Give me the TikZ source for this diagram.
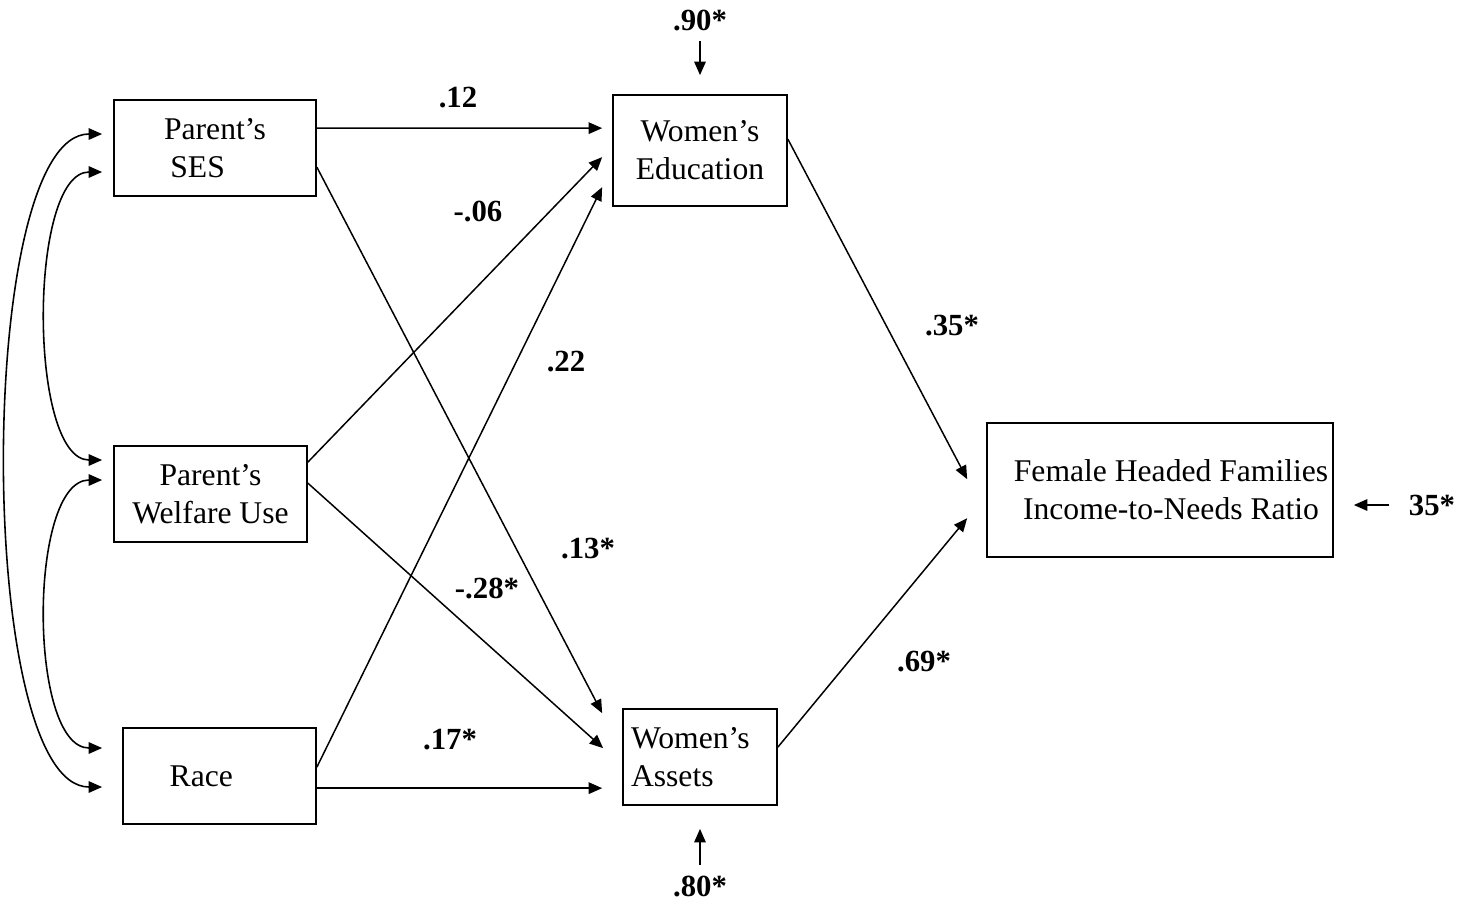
\documentclass[tikz,border=0pt]{standalone}
\usepackage{fontspec}
\setmainfont{Liberation Serif}
\usepackage{tikz}
\usetikzlibrary{arrows.meta,positioning,calc}

\begin{document}
\begin{tikzpicture}[x=0.02cm, y=-0.02cm,
    >={Triangle[length=0.27cm, width=0.23cm]},
    every node/.style={font=\fontsize{18}{21.5}\selectfont},
    box/.style={draw, line width=1pt, align=center, inner sep=0pt},
    coef/.style={inner sep=0pt, font=\fontsize{17.5}{20}\selectfont\bfseries},
    path/.style={->, line width=0.85pt}]
  \useasboundingbox (0,0) rectangle (1477,907);
  % Exogenous variables
  \node[box, minimum width=4.04cm, minimum height=1.92cm] (ses) at (215,148) {Parent’s\\SES\hspace*{1.1em}};
  \node[box, minimum width=3.86cm, minimum height=1.92cm] (wel) at (210.5,494) {Parent’s\\Welfare Use};
  \node[box, minimum width=3.86cm, minimum height=1.92cm] (race) at (219.5,776) {Race\hspace*{1.15em}};
  % Mediators
  \node[box, minimum width=3.48cm, minimum height=2.22cm] (edu) at (700,150.5) {Women’s\\Education};
  \node[box, minimum width=3.08cm, minimum height=1.92cm, align=left, text width=2.76cm] (ast) at (700,757) {Women’s\\Assets};
  % Outcome
  \node[box, minimum width=6.92cm, minimum height=2.68cm] (fhf) at (1160,490) {\hspace*{0.7em}Female Headed Families\\\hspace*{0.7em}Income-to-Needs Ratio};
  % Correlations
  \draw[<->, line width=0.9pt] ($(ses.west)+(-11,-14)$) to[out=180, in=180, looseness=0.5] ($(race.west)+(-20,11)$);
  \draw[<->, line width=0.9pt] ($(ses.west)+(-11,24)$) to[out=180, in=180, looseness=0.66] ($(wel.west)+(-11,-34)$);
  \draw[<->, line width=0.9pt] ($(wel.west)+(-11,-14)$) to[out=180, in=180, looseness=0.71] ($(race.west)+(-20,-28)$);
  % Paths
  \draw[path] ($(ses.north east)+(0,29)$) -- ($(edu.north west)+(-10,34)$);
  \draw[path] ($(ses.north east)+(0,68)$) -- ($(ast.north west)+(-20,5)$);
  \draw[path] ($(wel.north east)+(0,17)$) -- ($(edu.north west)+(-10,63)$);
  \draw[path] ($(wel.north east)+(0,38)$) -- ($(ast.north west)+(-19,40)$);
  \draw[path] ($(race.north east)+(0,40)$) -- ($(edu.north west)+(-10,93)$);
  \draw[path] ($(race.north east)+(0,61)$) -- ($(ast.north west)+(-20,80)$);
  \draw[path] ($(edu.north east)+(0,45)$) -- ($(fhf.north west)+(-19,57)$);
  \draw[path] ($(ast.north east)+(0,39)$) -- ($(fhf.north west)+(-19,96)$);
  % Coefficients
  \node[coef] (c12) at (458,98) {.12};
  \node[coef] (c06) at (478,211) {-.06};
  \node[coef] (c22) at (566,362) {.22};
  \node[coef] (c13) at (588,549) {.13*};
  \node[coef] (c28) at (487,588) {-.28*};
  \node[coef] (c17) at (450,740) {.17*};
  \node[coef] (c35) at (952,326) {.35*};
  \node[coef] (c69) at (924,662) {.69*};
  % Disturbances
  \node[coef] (e90) at (700,20) {.90*};
  \node[coef] (e80) at (700,886) {.80*};
  \node[coef] (e35) at (1432,505) {35*};
  \draw[path, shorten <=0.2cm, shorten >=0.38cm] (e90) -- (edu);
  \draw[path, shorten <=0.2cm, shorten >=0.46cm] (e80) -- (ast);
  \draw[path, shorten <=0.4cm, shorten >=0.4cm] (e35.west) -- (e35.west -| fhf.east);
\end{tikzpicture}
\end{document}
